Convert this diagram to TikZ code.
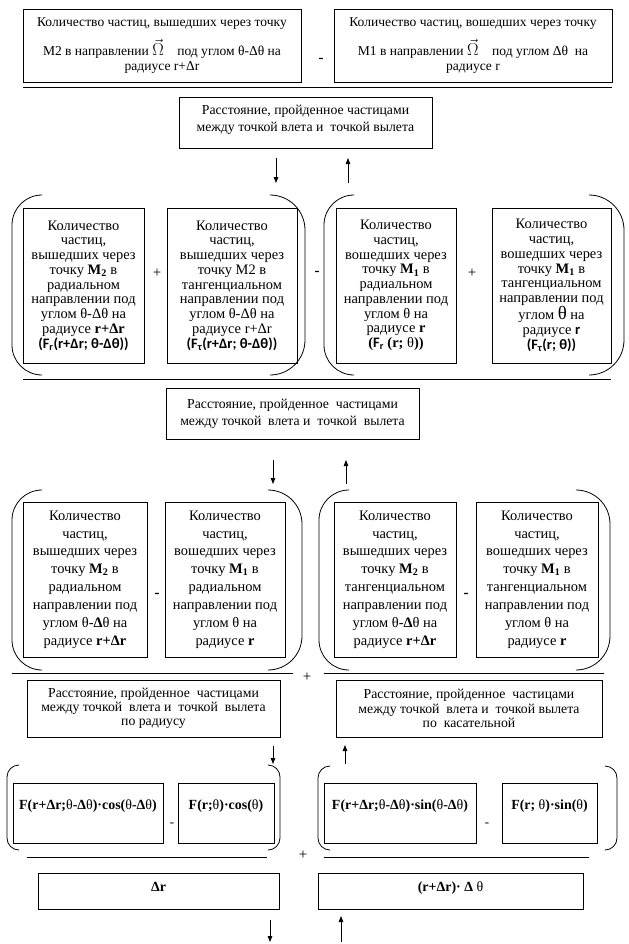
\documentclass[tikz,border=0pt]{standalone}
\usepackage{fontspec}
\setmainfont{Liberation Serif}
\newfontfamily\calib{Carlito}
\usetikzlibrary{arrows.meta}
\def\openbr(#1,#2,#3,#4){\draw[rounded corners=#4bp] (#1+#4,#2) -- (#1,#2) -- (#1,#3) -- (#1+#4,#3);}
\def\closebr(#1,#2,#3,#4){\draw[rounded corners=#4bp] (#1-#4,#2) -- (#1,#2) -- (#1,#3) -- (#1-#4,#3);}
\newcommand\thn{\textmd{θ}}
\newcommand\sfb[1]{{\calib\bfseries\fontsize{14.5}{14.8}\selectfont #1}}
\newcommand\omg{{\fontsize{17}{15}\selectfont$\vec{\Omega}$}}

\begin{document}
\begin{tikzpicture}[x=1bp, y=-1bp, line width=0.8bp]
  \tikzset{
    box/.style={draw, align=center, inner sep=1bp, font=\fontsize{14.5}{14.8}\selectfont},
    tall/.style={box, font=\fontsize{14.5}{17.9}\selectfont},
    dist/.style={box, font=\fontsize{13.8}{17.5}\selectfont},
    sign/.style={inner sep=0pt, font=\fontsize{15}{15}\selectfont},
    arr/.style={-{Triangle[length=6bp,width=4.5bp]}}
  }
  \useasboundingbox (0,0) rectangle (629,944);

  %%%%% top fraction %%%%%
  \node[box, minimum width=278bp, minimum height=73bp, font=\fontsize{13.6}{15}\selectfont] (outM2) at (162,45.5)
    {Количество частиц, вышедших через точку\\[9bp]
     M2 в направлении \omg\quad под углом θ-Δθ на\\ радиусе r+Δr};
  \node[box, minimum width=278bp, minimum height=73bp, font=\fontsize{13.6}{15}\selectfont] (inM1) at (473,45.5)
    {Количество частиц, вошедших через точку\\[9bp]
     M1 в направлении \omg\quad под углом Δθ~ на\\ радиусе r};
  \node[sign] (m1) at (321,60) {\textbf{-}};
  \draw (23,87.5) -- (612,87.5);
  \node[dist, minimum width=253bp, minimum height=51bp, text depth=8bp] (dist1) at (305.5,122.5)
    {Расстояние, пройденное частицами\\ между точкой влета и~ точкой вылета};

  \coordinate (a1s) at (276,158); \coordinate (a1e) at (276,183);
  \coordinate (b1s) at (348,183); \coordinate (b1e) at (348,158);
  \draw[arr] (a1s) -- (a1e);
  \draw[arr] (b1s) -- (b1e);

  %%%%% second fraction %%%%%
  \openbr(12,195,375,30)
  \closebr(305,195,375,35)
  \openbr(324,195,375,30)
  \closebr(624,195,375,35)

  \node[box, minimum width=121bp, minimum height=155bp] (radM2) at (83.5,285.5)
    {Количество\\ частиц,\\ вышедших через\\ точку \textbf{M\textsubscript{2}} в\\ радиальном\\
     направлении под\\ углом θ-Δθ на\\ радиусе \textbf{r+Δr}\\ \sfb{(F\textsubscript{r}(r+Δr; θ-Δθ))}};
  \node[box, minimum width=130bp, minimum height=155bp] (tanM2) at (232,285.5)
    {Количество\\ частиц,\\ вышедших через\\ точку M2 в\\ тангенциальном\\
     направлении под\\ углом θ-Δθ на\\ радиусе r+Δr\\ \sfb{(F\textsubscript{τ}(r+Δr; θ-Δθ))}};
  \node[box, minimum width=120bp, minimum height=155bp] (radM1) at (396,285.5)
    {Количество\\ частиц,\\ вошедших через\\ точку \textbf{M\textsubscript{1}} в\\ радиальном\\
     направлении под\\ углом θ на\\ радиусе \textbf{r}\\ \textbf{(}\sfb{F\textsubscript{r}} \textbf{(r; }θ\textbf{))}};
  \node[box, minimum width=119bp, minimum height=155bp] (tanM1) at (551.5,285.5)
    {Количество\\ частиц,\\ вошедших через\\ точку \textbf{M\textsubscript{1}} в\\ тангенциальном\\
     направлении под\\ углом {\fontsize{19}{14.8}\selectfont θ} на\\ радиусе \sfb{r}\\ \sfb{(F\textsubscript{τ}(r; θ))}};
  \node[sign] (p2a) at (157,273) {+};
  \node[sign] (m2) at (317,273) {\textbf{-}};
  \node[sign] (p2b) at (472,273) {+};
  \draw (23,379.5) -- (611,379.5);
  \node[dist, minimum width=253bp, minimum height=51bp] (dist2) at (292.5,413.5)
    {Расстояние, пройденное~ частицами\\ между точкой~ влета и~ точкой~ вылета};

  \coordinate (a2s) at (273,460); \coordinate (a2e) at (273,484);
  \coordinate (b2s) at (346,484); \coordinate (b2e) at (346,460);
  \draw[arr] (a2s) -- (a2e);
  \draw[arr] (b2s) -- (b2e);

  %%%%% radial and tangential parts %%%%%
  \openbr(12,490,670,30)
  \closebr(302,490,670,34)
  \openbr(319,490,670,30)
  \closebr(610,490,670,34)

  \node[tall, minimum width=124bp, minimum height=155bp] (rM2) at (85,579.5)
    {Количество\\ частиц,\\ вышедших через\\ точку \textbf{M\textsubscript{2}} в\\ радиальном\\
     направлении под\\ углом θ-\textbf{Δ}θ на\\ радиусе \textbf{r+Δr}};
  \node[tall, minimum width=120bp, minimum height=155bp] (rM1) at (225,579.5)
    {Количество\\ частиц,\\ вошедших через\\ точку \textbf{M\textsubscript{1}} в\\ радиальном\\
     направлении под\\ углом θ на\\ радиусе \textbf{r}};
  \node[tall, minimum width=122bp, minimum height=155bp] (tM2) at (395,579.5)
    {Количество\\ частиц,\\ вышедших через\\ точку \textbf{M\textsubscript{2}} в\\ тангенциальном\\
     направлении под\\ углом θ-\textbf{Δ}θ на\\ радиусе \textbf{r+Δr}};
  \node[tall, minimum width=122bp, minimum height=155bp] (tM1) at (537,579.5)
    {Количество\\ частиц,\\ вошедших через\\ точку \textbf{M\textsubscript{1}} в\\ тангенциальном\\
     направлении под\\ углом θ на\\ радиусе \textbf{r}};
  \node[sign] (m3a) at (157,595) {\textbf{-}};
  \node[sign] (m3b) at (466,595) {\textbf{-}};
  \draw (12,673) -- (293,673);
  \draw (324,673) -- (604,673);
  \node[sign] (p3) at (307,677) {+};
  \node[dist, minimum width=253bp, minimum height=57bp, font=\fontsize{13.8}{14.3}\selectfont] (distr) at (153.5,708.5)
    {Расстояние, пройденное~ частицами\\ между точкой~ влета и~ точкой~ вылета\\ по радиусу};
  \node[dist, minimum width=266bp, minimum height=57bp, font=\fontsize{13.8}{14.3}\selectfont] (distt) at (469,708.5)
    {Расстояние, пройденное~ частицами\\ между точкой~ влета и~ точкой вылета\\ по~ касательной};

  \coordinate (a3s) at (273,746); \coordinate (a3e) at (273,764);
  \coordinate (b3s) at (345,764); \coordinate (b3e) at (345,745);
  \draw[arr] (a3s) -- (a3e);
  \draw[arr] (b3s) -- (b3e);

  %%%%% projections %%%%%
  \openbr(7,765,850,12)
  \closebr(280,765,850,12)
  \openbr(318,766,850,12)
  \closebr(617,766,850,12)

  \node[box, font=\fontsize{14}{14}\selectfont, minimum width=150bp, minimum height=60bp, text depth=17bp] (cos1) at (88,813)
    {\textbf{F(r+Δr;\thn-Δ\thn)·cos(\thn-Δ\thn)}};
  \node[box, font=\fontsize{14}{14}\selectfont, minimum width=96bp, minimum height=60bp, text depth=17bp] (cos2) at (226,813)
    {\textbf{F(r;\thn)·cos(\thn)}};
  \node[box, font=\fontsize{14}{14}\selectfont, minimum width=152bp, minimum height=60bp, text depth=17bp] (sin1) at (400,813)
    {\textbf{F(r+Δr;\thn-Δ\thn)·sin(\thn-Δ\thn)}};
  \node[box, font=\fontsize{14}{14}\selectfont, minimum width=95bp, minimum height=60bp, text depth=17bp] (sin2) at (549.5,813)
    {\textbf{F(r; \thn)·sin(\thn)}};
  \node[inner sep=0pt, font=\fontsize{13}{13}\selectfont] (m4a) at (172,825) {-};
  \node[inner sep=0pt, font=\fontsize{13}{13}\selectfont] (m4b) at (487,825) {-};
  \draw (27,857) -- (267,857);
  \draw (324,857) -- (589,857);
  \node[sign] (p4) at (303,855) {+};
  \node[box, font=\fontsize{14}{14}\selectfont, minimum width=241bp, minimum height=36bp, text depth=9bp] (dr) at (158.5,891)
    {\textbf{Δr}};
  \node[box, font=\fontsize{14}{14}\selectfont, minimum width=265bp, minimum height=36bp, text depth=9bp] (rdth) at (450.5,891)
    {\textbf{(r+Δr)· Δ} θ};

  \coordinate (a4s) at (270,920); \coordinate (a4e) at (270,942);
  \coordinate (b4s) at (341,942); \coordinate (b4e) at (341,916);
  \draw[arr] (a4s) -- (a4e);
  \draw[arr] (b4s) -- (b4e);
\end{tikzpicture}
\end{document}
